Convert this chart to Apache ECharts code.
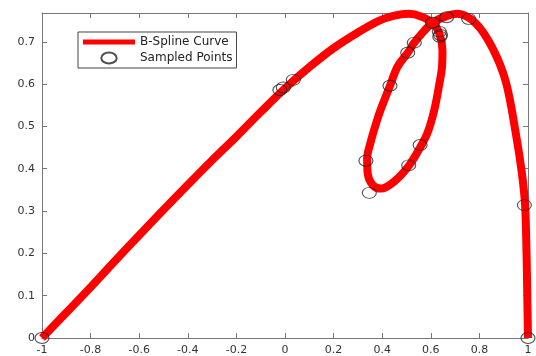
<!DOCTYPE html>
<html>
<head>
<meta charset="utf-8">
<script src="https://cdn.jsdelivr.net/npm/echarts@6/dist/echarts.min.js"></script>
<style>
  html, body { margin: 0; padding: 0; background: #fff; }
  #chart { width: 536px; height: 356px; }
</style>
</head>
<body>
<div id="chart"></div>
<script>
// B-spline curve, traced along the red stroke (in drawing order)
const curveX = [-1.00, -0.90, -0.80, -0.70, -0.60, -0.50, -0.40, -0.30, -0.20, -0.10, 0.00,
  0.10, 0.20, 0.30, 0.388, 0.45, 0.51, 0.56, 0.607, 0.635, 0.648, 0.646, 0.635, 0.614, 0.586,
  0.556, 0.511, 0.450, 0.395, 0.360, 0.340, 0.338, 0.352, 0.372, 0.394, 0.432, 0.463, 0.505, 0.532,
  0.570, 0.607, 0.662, 0.710, 0.786, 0.854, 0.909, 0.950, 0.975, 0.988, 0.994, 0.997, 1.000]
const curveY = [0.000, 0.060, 0.120, 0.182, 0.243, 0.303, 0.362, 0.420, 0.476, 0.534, 0.590,
  0.640, 0.685, 0.722, 0.750, 0.762, 0.766, 0.760, 0.745, 0.720, 0.680, 0.640, 0.600, 0.538, 0.484,
  0.450, 0.408, 0.370, 0.353, 0.362, 0.390, 0.424, 0.462, 0.502, 0.540, 0.596, 0.641, 0.674, 0.698,
  0.724, 0.745, 0.760, 0.766, 0.743, 0.685, 0.605, 0.483, 0.389, 0.314, 0.200, 0.100, 0.000]

// sampled points (open circles)
const sampleX = [-1.000, -0.021, -0.007, 0.034, 0.333, 0.347, 0.432, 0.505, 0.509, 0.532,
  0.556, 0.607, 0.635, 0.640, 0.637, 0.665, 0.756, 0.985, 1.000]
const sampleY = [0.000, 0.586, 0.592, 0.610, 0.419, 0.343, 0.596, 0.674, 0.408, 0.698,
  0.456, 0.745, 0.724, 0.716, 0.712, 0.758, 0.754, 0.314, 0.000]

const seriesNames = ['B-Spline Curve', 'Sampled Points']

const X_MIN = -1, X_MAX = 1, X_STEP = 0.2
const Y_MIN = 0, Y_MAX = 0.768, Y_STEP = 0.1

const AXIS_COLOR = '#777'
const LABEL_COLOR = '#333'
const FONT = 'DejaVu Sans'

const chart = echarts.init(document.getElementById('chart'), null, { renderer: 'canvas' })

function boxAxis(pos, min, max, step, showLabel) {
  return {
    type: 'value',
    position: pos,
    min, max, interval: step,
    axisLine: { show: true, onZero: false, lineStyle: { color: AXIS_COLOR, width: 1 } },
    axisTick: { show: true, inside: true, length: 5, lineStyle: { color: AXIS_COLOR } },
    axisLabel: {
      show: showLabel,
      color: LABEL_COLOR,
      fontFamily: FONT,
      fontSize: 11,
      margin: 7,
      showMaxLabel: pos === 'left' ? false : true,
    },
    splitLine: { show: false },
  }
}

chart.setOption({
  animation: false,
  backgroundColor: '#fff',
  grid: { left: 42, right: 8, top: 13, bottom: 18 },
  xAxis: [
    boxAxis('bottom', X_MIN, X_MAX, X_STEP, true),
    boxAxis('top', X_MIN, X_MAX, X_STEP, false),
  ],
  yAxis: [
    boxAxis('left', Y_MIN, Y_MAX, Y_STEP, true),
    boxAxis('right', Y_MIN, Y_MAX, Y_STEP, false),
  ],
  legend: {
    orient: 'vertical',
    left: 78,
    top: 32,
    padding: [3, 4, 3, 5],
    itemGap: 2,
    itemWidth: 52,
    itemHeight: 11,
    borderColor: '#444',
    borderWidth: 1,
    borderRadius: 0,
    backgroundColor: '#fff',
    textStyle: { color: '#222', fontFamily: FONT, fontSize: 12, lineHeight: 14 },
    data: [
      { name: seriesNames[0], icon: 'path://M0,0L52,0L52,5L0,5Z', itemStyle: { color: '#ff0000' } },
      { name: seriesNames[1], icon: 'path://M0,5a7,5 0 1,0 14,0a7,5 0 1,0 -14,0' },
    ],
  },
  series: [
    {
      name: seriesNames[0],
      type: 'line',
      xAxisIndex: 0,
      yAxisIndex: 0,
      data: curveX.map((x, i) => [x, curveY[i]]),
      symbol: 'none',
      smooth: 0.35,
      clip: false,
      lineStyle: { color: '#ff0000', width: 8 },
      itemStyle: { color: '#ff0000' },
      z: 2,
    },
    {
      name: seriesNames[1],
      type: 'scatter',
      xAxisIndex: 0,
      yAxisIndex: 0,
      data: sampleX.map((x, i) => [x, sampleY[i]]),
      symbol: 'circle',
      symbolSize: [14, 11],
      clip: false,
      itemStyle: { color: 'rgba(0,0,0,0)', borderColor: '#222', borderWidth: 1 },
      z: 3,
    },
  ],
})
</script>
</body>
</html>
